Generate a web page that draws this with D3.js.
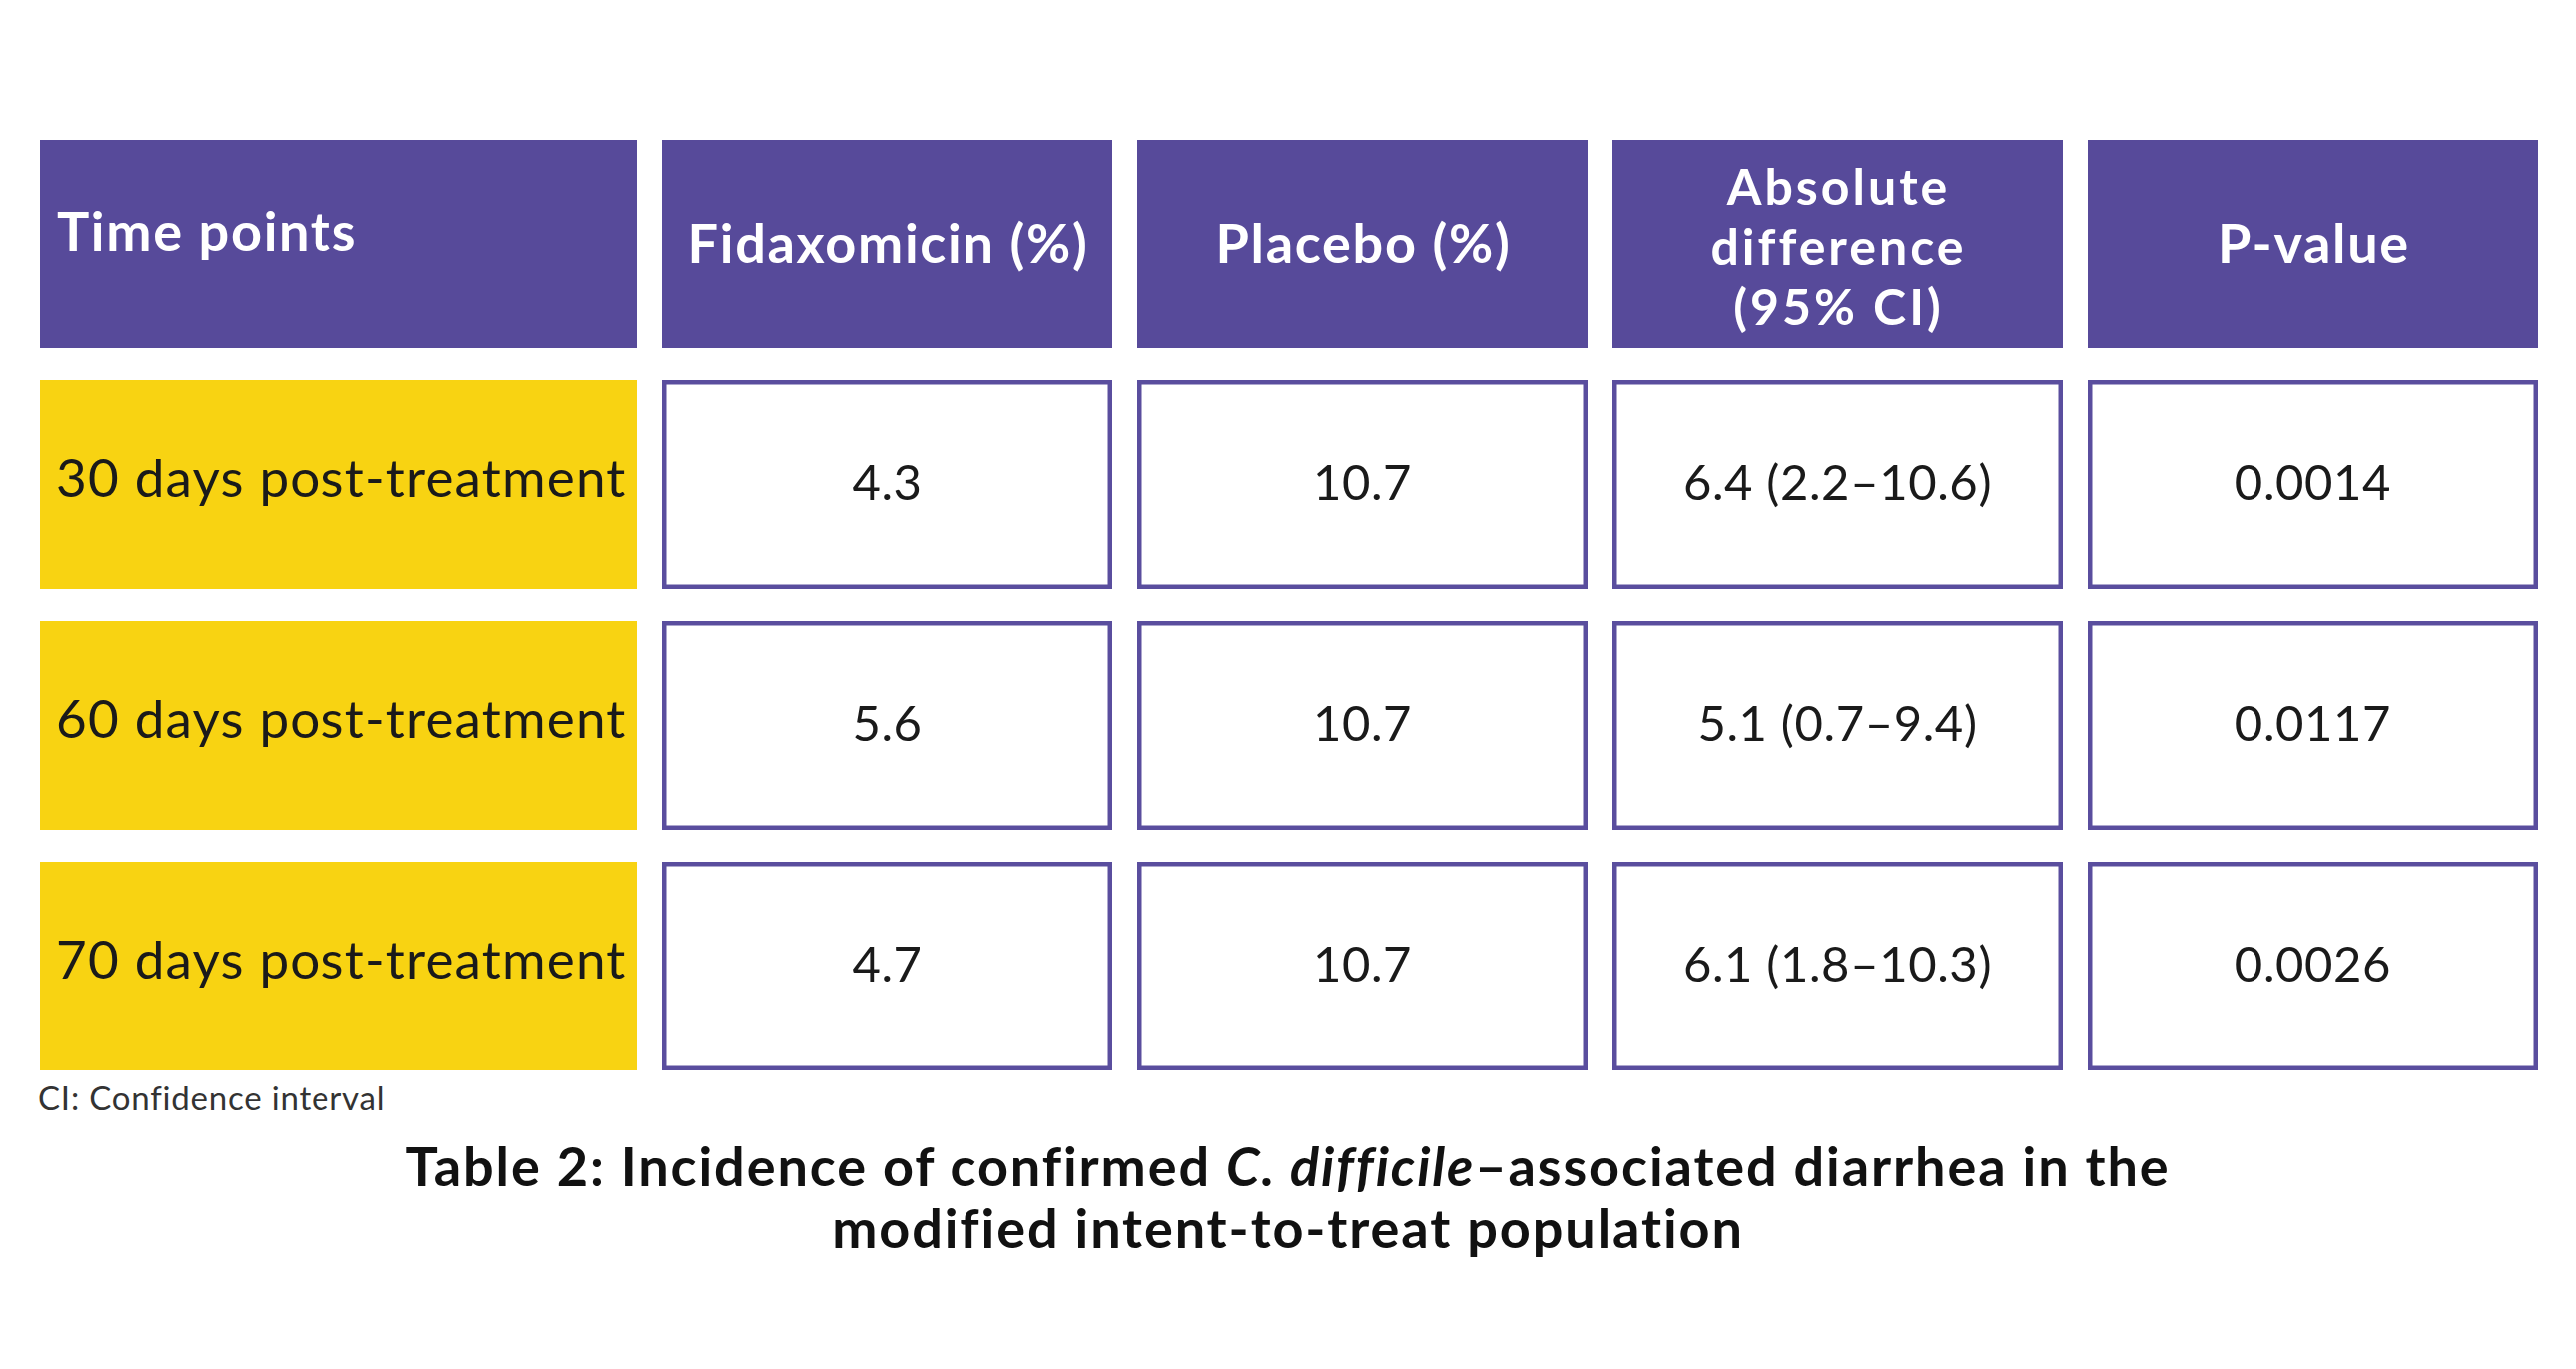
<!DOCTYPE html>
<html>
<head>
<meta charset="utf-8">
<script src="https://cdn.jsdelivr.net/npm/d3@7"></script>
<style>
  html, body { margin: 0; padding: 0; background: #ffffff; }
  svg { display: block; }
</style>
</head>
<body>
<svg id="chart" width="2580" height="1371"></svg>
<script>
// ---- data ----
const headerLines = [["Time points"], ["Fidaxomicin (%)"], ["Placebo (%)"], ["Absolute", "difference", "(95% CI)"], ["P-value"]];
const timePoints = ["30 days post-treatment", "60 days post-treatment", "70 days post-treatment"];
const fidaxomicin = [4.3, 5.6, 4.7];
const placebo = [10.7, 10.7, 10.7];
const absDiff = [6.4, 5.1, 6.1];
const ciLow = [2.2, 0.7, 1.8];
const ciHigh = [10.6, 9.4, 10.3];
const pValues = ["0.0014", "0.0117", "0.0026"];
const footnote = "CI: Confidence interval";
const captionLine1 = ["Table 2: Incidence of confirmed ", "C. difficile", "–associated diarrhea in the"];
const captionLine2 = "modified intent-to-treat population";

// ---- styles ----
const PURPLE = "#574a9a";
const BORDER = "#5a4e9e";
const YELLOW = "#f8d312";
const FONT = "Lato, 'Open Sans', sans-serif";

const svg = d3.select("#chart");

const dataCols = headerLines.slice(1).map(l => l.join(" "));
const rowKeys = ["header"].concat(timePoints);

const xData = d3.scaleBand().domain(dataCols).range([663, 2542]).paddingInner(25 / 476).paddingOuter(0);
const xLabel = { x0: 40, x1: 638 };
const y = d3.scaleBand().domain(rowKeys).range([140, 1072]).paddingInner(32 / 241).paddingOuter(0);

function colX(i) { return i === 0 ? xLabel.x0 : xData(dataCols[i - 1]); }
function colW(i) { return i === 0 ? (xLabel.x1 - xLabel.x0) : xData.bandwidth(); }

// ---- header ----
const hdr = svg.append("g");
headerLines.forEach((lines, i) => {
  hdr.append("rect")
    .attr("x", colX(i)).attr("y", y("header"))
    .attr("width", colW(i)).attr("height", y.bandwidth())
    .attr("fill", PURPLE);
  const multi = lines.length > 1;
  const lh = 60;
  const cy = y("header") + y.bandwidth() / 2;
  const tx = i === 0 ? colX(i) + 17 : colX(i) + colW(i) / 2 + 1;
  const firstBase = i === 0 ? 251 : (multi ? cy + 16 - (lines.length - 1) * lh / 2 + 4 : cy + 18);
  lines.forEach((ln, k) => {
    hdr.append("text")
      .attr("font-family", FONT).attr("font-weight", 700)
      .attr("font-size", multi ? 50 : 54)
      .attr("letter-spacing", multi ? 3 : 1.7)
      .attr("fill", "#ffffff")
      .attr("text-anchor", i === 0 ? "start" : "middle")
      .attr("x", tx).attr("y", firstBase + k * lh)
      .text(ln);
  });
});

// ---- body rows ----
const rows = timePoints.map((tp, r) => ({
  label: tp,
  cells: [
    d3.format(".1f")(fidaxomicin[r]),
    d3.format(".1f")(placebo[r]),
    `${d3.format(".1f")(absDiff[r])} (${d3.format(".1f")(ciLow[r])}–${d3.format(".1f")(ciHigh[r])})`,
    pValues[r]
  ]
}));

const body = svg.append("g");
rows.forEach((row) => {
  const ry = y(row.label);
  const rh = y.bandwidth();
  body.append("rect")
    .attr("x", colX(0)).attr("y", ry).attr("width", colW(0)).attr("height", rh)
    .attr("fill", YELLOW);
  body.append("text")
    .attr("x", colX(0) + 16).attr("y", ry + rh / 2 + 12)
    .attr("font-family", FONT).attr("font-weight", 400).attr("font-size", 53)
    .attr("letter-spacing", 1.2)
    .attr("fill", "#1a1a1a")
    .text(row.label);
  row.cells.forEach((val, c) => {
    const sw = 4.5;
    const cx = xData(dataCols[c]);
    body.append("rect")
      .attr("x", cx + sw / 2).attr("y", ry + sw / 2)
      .attr("width", xData.bandwidth() - sw).attr("height", rh - sw)
      .attr("fill", "#ffffff").attr("stroke", BORDER).attr("stroke-width", sw);
    body.append("text")
      .attr("x", cx + xData.bandwidth() / 2).attr("y", ry + rh / 2 + 15)
      .attr("text-anchor", "middle")
      .attr("font-family", FONT).attr("font-weight", 400).attr("font-size", 49)
      .attr("letter-spacing", 0.6)
      .attr("fill", "#1a1a1a")
      .text(val);
  });
});

// ---- footnote ----
svg.append("text")
  .attr("x", 38).attr("y", 1112)
  .attr("font-family", FONT).attr("font-weight", 400).attr("font-size", 33)
  .attr("letter-spacing", 0.8)
  .attr("fill", "#333333")
  .text(footnote);

// ---- caption ----
const cap = svg.append("text")
  .attr("text-anchor", "middle")
  .attr("font-family", FONT).attr("font-weight", 700).attr("font-size", 54)
  .attr("letter-spacing", 1.9)
  .attr("fill", "#111111");
const l1 = cap.append("tspan").attr("x", 1290).attr("y", 1188);
captionLine1.forEach((s, k) => {
  const ts = (k === 0 ? l1 : cap.append("tspan")).text(s);
  if (k === 1) ts.attr("font-style", "italic");
});
cap.append("tspan").attr("x", 1290).attr("y", 1250).text(captionLine2);
</script>
</body>
</html>
